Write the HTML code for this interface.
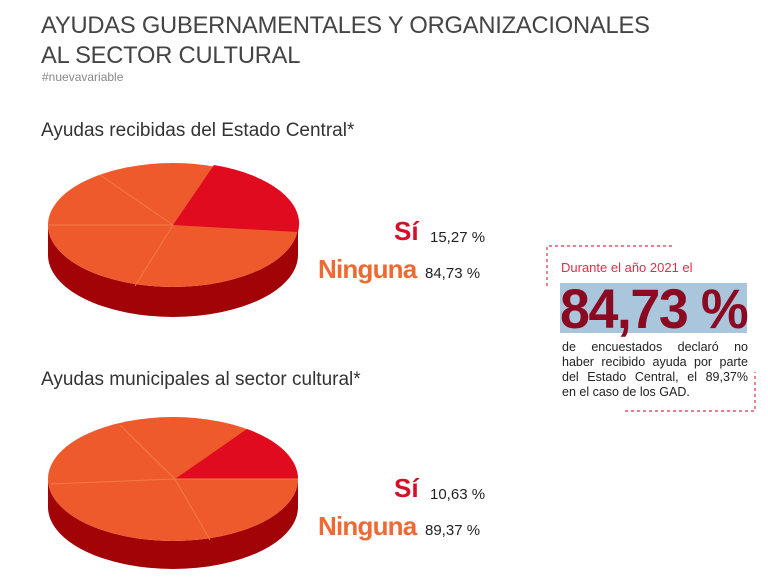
<!DOCTYPE html>
<html><head><meta charset="utf-8"><style>
body{margin:0;width:768px;height:580px;background:#fff;position:relative;overflow:hidden;font-family:"Liberation Sans",sans-serif}
.a{position:absolute;white-space:nowrap}
.j{display:block;text-align:justify;text-align-last:justify;width:186px}
</style></head><body>
<div class="a" style="left:41px;top:11px;font-size:23.7px;color:#444;line-height:30px;letter-spacing:-0.2px">AYUDAS GUBERNAMENTALES Y ORGANIZACIONALES<br>AL SECTOR CULTURAL</div>
<div class="a" style="left:42px;top:70px;font-size:12px;color:#888">#nuevavariable</div>
<div class="a" style="left:41px;top:120px;font-size:19px;color:#333">Ayudas recibidas del Estado Central*</div>
<div class="a" style="left:41px;top:369px;font-size:19px;color:#333">Ayudas municipales al sector cultural*</div>
<svg class="a" style="left:0;top:0" width="768" height="580">
<g>
<path d="M48,225 A125,62 0 0 0 298,225 L298,255 A125,62 0 0 1 48,255 Z" fill="#a10306"/>
<ellipse cx="173" cy="225" rx="125" ry="62" fill="#ee5a2b"/>
<path d="M173,225 L214,165 A125,62 0 0 1 298,232 Z" fill="#e00b1e"/>
<g stroke="#f47a45" stroke-width="1">
<line x1="173" y1="225" x2="135" y2="286"/><line x1="173" y1="225" x2="49" y2="225"/><line x1="173" y1="225" x2="100" y2="175"/>
</g>
</g>
<g>
<path d="M48,479 A125,62 0 0 0 298,479 L298,507 A125,62 0 0 1 48,507 Z" fill="#a10306"/>
<ellipse cx="173" cy="479" rx="125" ry="62" fill="#ee5a2b"/>
<path d="M175,479 L247,429 A125,62 0 0 1 298,479 Z" fill="#e00b1e"/>
<g stroke="#f47a45" stroke-width="1">
<line x1="175" y1="479" x2="210" y2="540"/><line x1="175" y1="479" x2="50" y2="484"/><line x1="175" y1="479" x2="120" y2="425"/><line x1="175" y1="479" x2="298" y2="479"/>
</g>
</g>
<g stroke="#d9314a" stroke-width="1.2" stroke-dasharray="3,3" fill="none">
<path d="M547,286 L547,246 L672,246"/>
<path d="M625,411 L755,411 L755,372"/>
</g>
<rect x="560" y="283" width="187" height="50" fill="#a9c6dd"/>
</svg>
<div class="a" style="left:394px;top:216px;font-size:26px;font-weight:bold;color:#d50f25">Sí</div>
<div class="a" style="left:430px;top:229px;font-size:15px;color:#222">15,27 %</div>
<div class="a" style="left:318px;top:254px;font-size:26px;font-weight:bold;color:#ee6a34;letter-spacing:-0.8px">Ninguna</div>
<div class="a" style="left:425px;top:265px;font-size:15px;color:#222">84,73 %</div>
<div class="a" style="left:394px;top:473px;font-size:26px;font-weight:bold;color:#d50f25">Sí</div>
<div class="a" style="left:430px;top:486px;font-size:15px;color:#222">10,63 %</div>
<div class="a" style="left:318px;top:511px;font-size:26px;font-weight:bold;color:#ee6a34;letter-spacing:-0.8px">Ninguna</div>
<div class="a" style="left:425px;top:522px;font-size:15px;color:#222">89,37 %</div>
<div class="a" style="left:561px;top:260px;font-size:13px;color:#d9314a">Durante el año 2021 el</div>
<div class="a" style="left:560px;top:279px;font-size:56px;font-weight:bold;color:#8b0a22;line-height:60px;letter-spacing:-1.5px;transform:scaleX(0.96);transform-origin:0 0">84,73 %</div>
<div class="a" style="left:562px;top:340px;font-size:12.5px;line-height:15px;color:#222"><span class="j">de encuestados declaró no</span><span class="j">haber recibido ayuda por parte</span><span class="j">del Estado Central, el 89,37%</span><span style="display:block">en el caso de los GAD.</span></div>
</body></html>
